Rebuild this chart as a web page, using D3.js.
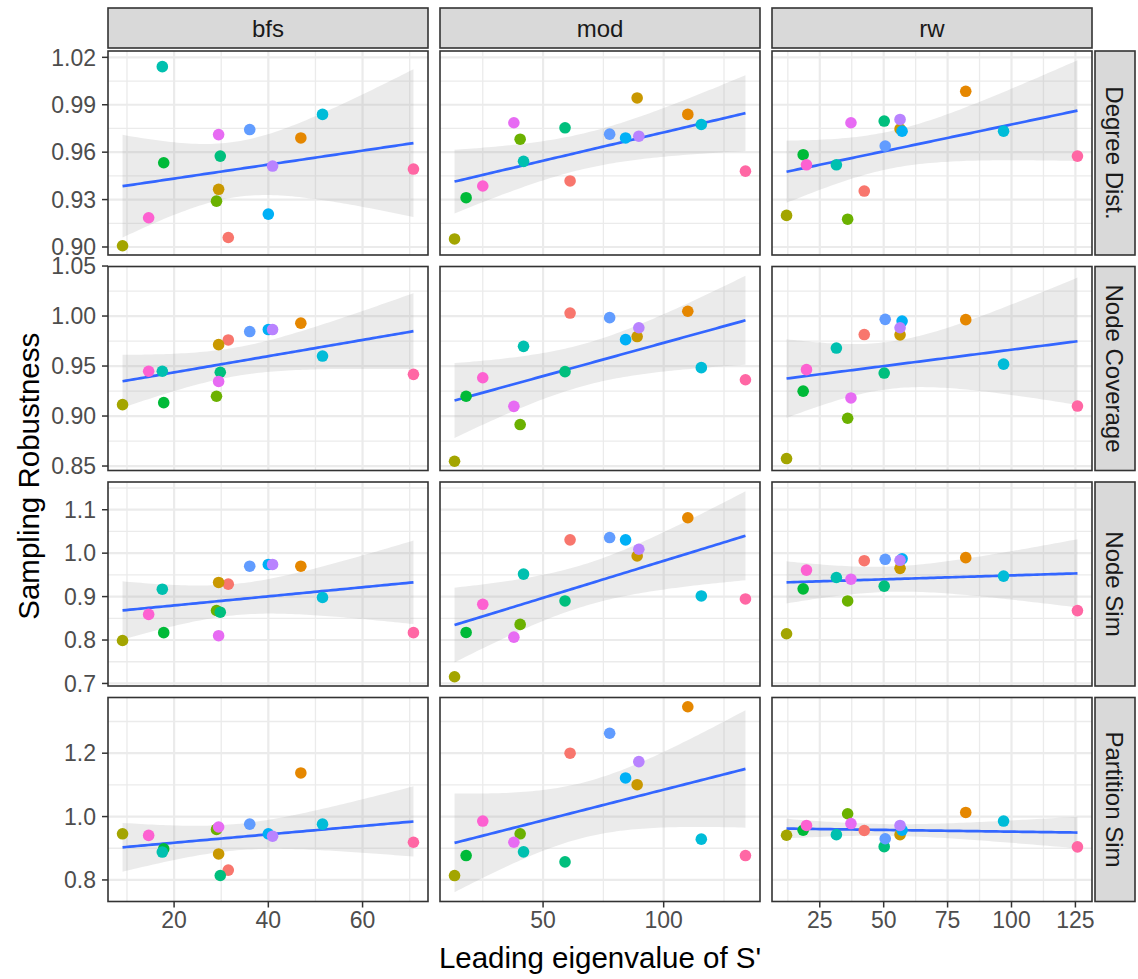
<!DOCTYPE html>
<html>
<head>
<meta charset="utf-8">
<script src="https://cdn.jsdelivr.net/npm/d3@7"></script>
<style>
  body { margin: 0; background: #ffffff; }
  text { font-family: "Liberation Sans", Arial, sans-serif; }
</style>
</head>
<body>
<svg id="chart" width="1138" height="979"></svg>
<script>
// ---- data -----------------------------------------------------------
const datasets = ["g01","g02","g03","g04","g05","g06","g07","g08","g09","g10","g11","g12","g13","g14","g15"];
const palette = ["#F8766D","#E58700","#C99800","#A3A500","#6BB100","#00BA38","#00BF7D","#00C0AF",
                 "#00BCD8","#00B0F6","#619CFF","#B983FF","#E76BF3","#FD61D1","#FF67A4"];

const methods = ["bfs", "mod", "rw"];
const metrics = ["Degree Dist.", "Node Coverage", "Node Sim", "Partition Sim"];

// leading eigenvalue of S' per dataset, one array per sampling method
const eigenBfs = [31.5, 46.9, 29.45, 9.06, 29.0, 17.8, 29.8, 17.5, 51.5, 40.0, 36.05, 40.9, 29.45, 14.6, 70.8];
const eigenMod = [61.2, 110.0, 89.0, 13.3, 40.5, 18.1, 59.1, 41.9, 115.6, 84.2, 77.6, 89.7, 37.9, 25.0, 133.9];
const eigenRw  = [42.4, 82.1, 56.4, 12.0, 35.9, 18.5, 50.2, 31.5, 96.9, 57.2, 50.6, 56.4, 37.2, 19.8, 125.8];

// sampling robustness per dataset
const degBfs  = [0.906, 0.969, 0.9365, 0.9008, 0.929, 0.9533, 0.9575, 1.0141, 0.9839, 0.9208, 0.9743, 0.9512, 0.9711, 0.9185, 0.9493];
const degMod  = [0.9418, 0.9839, 0.9943, 0.9051, 0.9682, 0.9312, 0.9754, 0.9542, 0.9775, 0.969, 0.9714, 0.9701, 0.9786, 0.9386, 0.948];
const degRw   = [0.9354, 0.9985, 0.9747, 0.92, 0.9176, 0.9584, 0.9797, 0.952, 0.9733, 0.9733, 0.9639, 0.9807, 0.9786, 0.952, 0.9575];

const covBfs  = [0.9761, 0.9929, 0.9714, 0.9114, 0.9198, 0.9134, 0.9438, 0.9448, 0.96, 0.9865, 0.9845, 0.9865, 0.9346, 0.9448, 0.9417];
const covMod  = [1.003, 1.0048, 0.9795, 0.8548, 0.8915, 0.9198, 0.9444, 0.9697, 0.9484, 0.9764, 0.9984, 0.9883, 0.9097, 0.9383, 0.9363];
const covRw   = [0.9815, 0.9964, 0.9812, 0.8575, 0.8978, 0.9249, 0.943, 0.968, 0.9519, 0.995, 0.9967, 0.9883, 0.9181, 0.9464, 0.91];

const simBfs  = [0.9286, 0.970, 0.9325, 0.7989, 0.868, 0.817, 0.864, 0.917, 0.898, 0.974, 0.970, 0.974, 0.810, 0.859, 0.817];
const simMod  = [1.0306, 1.0815, 0.9935, 0.7155, 0.836, 0.8174, 0.890, 0.9518, 0.9015, 1.0306, 1.0359, 1.009, 0.8066, 0.8823, 0.8946];
const simRw   = [0.9826, 0.9896, 0.965, 0.8144, 0.89, 0.9178, 0.924, 0.944, 0.9472, 0.987, 0.9858, 0.9835, 0.940, 0.961, 0.8677];

const partBfs = [0.831, 1.1377, 0.882, 0.9456, 0.9595, 0.898, 0.814, 0.888, 0.976, 0.9456, 0.976, 0.938, 0.967, 0.9405, 0.919];
const partMod = [1.2, 1.3465, 1.1006, 0.8139, 0.9456, 0.877, 0.857, 0.8886, 0.9288, 1.1218, 1.263, 1.1734, 0.919, 0.9858, 0.877];
const partRw  = [0.956, 1.013, 0.943, 0.941, 1.0089, 0.957, 0.905, 0.943, 0.9858, 0.957, 0.930, 0.972, 0.978, 0.972, 0.9045];

// axis tick labels
const xTicksBfs = [20, 40, 60];
const xTicksMod = [50, 100];
const xTicksRw  = [25, 50, 75, 100, 125];
const yTicksDeg  = ["0.90", "0.93", "0.96", "0.99", "1.02"];
const yTicksCov  = ["0.85", "0.90", "0.95", "1.00", "1.05"];
const yTicksSim  = ["0.7", "0.8", "0.9", "1.0", "1.1"];
const yTicksPart = ["0.8", "1.0", "1.2"];

// ---- assemble -------------------------------------------------------
const eigenByMethod = [eigenBfs, eigenMod, eigenRw];
const valuesGrid = [
  [degBfs, degMod, degRw],
  [covBfs, covMod, covRw],
  [simBfs, simMod, simRw],
  [partBfs, partMod, partRw]
];
const xTicksByCol = [xTicksBfs, xTicksMod, xTicksRw];
const yTicksByRow = [yTicksDeg, yTicksCov, yTicksSim, yTicksPart];

// ---- layout ---------------------------------------------------------
const panelX0 = 108, panelW = 320, gapX = 12;
const panelY0 = 51,  panelH = 204, gapY = 11.5;
const stripH = 40, stripW = 40;
const colLeft = c => panelX0 + c * (panelW + gapX);
const rowTop  = r => panelY0 + r * (panelH + gapY);

const ink = "#333333";
const gridCol = "#EBEBEB";
const tickText = "#4D4D4D";

const svg = d3.select("#chart");

// ---- linear fit with 95% confidence band ---------------------------
function lmFit(xs, ys) {
  const n = xs.length;
  const mx = d3.mean(xs), my = d3.mean(ys);
  let sxx = 0, sxy = 0;
  for (let i = 0; i < n; i++) { sxx += (xs[i]-mx)**2; sxy += (xs[i]-mx)*(ys[i]-my); }
  const b = sxy / sxx, a = my - b * mx;
  let sse = 0;
  for (let i = 0; i < n; i++) sse += (ys[i] - (a + b*xs[i]))**2;
  const s = Math.sqrt(sse / (n - 2));
  const t = 2.160; // t quantile, 13 df
  const [x0, x1] = d3.extent(xs);
  return d3.range(80).map(k => {
    const x = x0 + (x1 - x0) * k / 79;
    const yhat = a + b * x;
    const se = s * Math.sqrt(1/n + (x-mx)**2 / sxx);
    return { x, y: yhat, lo: yhat - t*se, hi: yhat + t*se };
  });
}

const fits = valuesGrid.map(row => row.map((vals, c) => lmFit(eigenByMethod[c], vals)));

// x scales per column (data range, 5% padding)
const xScales = eigenByMethod.map((xs, c) => {
  const [lo, hi] = d3.extent(xs), pad = (hi - lo) * 0.05;
  return d3.scaleLinear().domain([lo - pad, hi + pad]).range([colLeft(c), colLeft(c) + panelW]);
});

// y scales per row (points and bands, 5% padding)
const yScales = valuesGrid.map((row, r) => {
  let lo = Infinity, hi = -Infinity;
  row.forEach((vals, c) => {
    vals.forEach(v => { lo = Math.min(lo, v); hi = Math.max(hi, v); });
    fits[r][c].forEach(p => { lo = Math.min(lo, p.lo); hi = Math.max(hi, p.hi); });
  });
  const pad = (hi - lo) * 0.05;
  return d3.scaleLinear().domain([lo - pad, hi + pad]).range([rowTop(r) + panelH, rowTop(r)]);
});

// minor breaks: midpoints between majors, extended one step each way
function minorBreaks(majors, domain) {
  const step = majors[1] - majors[0];
  const out = [];
  for (let v = majors[0] - step/2; v <= domain[1] + 1e-9; v += step) {
    if (v >= domain[0] - 1e-9) out.push(v);
  }
  return out;
}

// ---- panels ---------------------------------------------------------
metrics.forEach((metric, r) => {
  const y = yScales[r];
  const yMajor = yTicksByRow[r].map(Number);
  methods.forEach((method, c) => {
    const x = xScales[c];
    const xMajor = xTicksByCol[c];
    const left = colLeft(c), top = rowTop(r);
    const g = svg.append("g");
    const clipId = `clip-${r}-${c}`;
    g.append("clipPath").attr("id", clipId)
      .append("rect").attr("x", left).attr("y", top).attr("width", panelW).attr("height", panelH);

    g.append("rect").attr("x", left).attr("y", top).attr("width", panelW).attr("height", panelH)
      .attr("fill", "#ffffff");

    const grid = g.append("g").attr("clip-path", `url(#${clipId})`);
    // minor grid
    grid.selectAll(".ymin").data(minorBreaks(yMajor, y.domain())).join("line")
      .attr("x1", left).attr("x2", left + panelW).attr("y1", d => y(d)).attr("y2", d => y(d))
      .attr("stroke", gridCol).attr("stroke-width", 1.3);
    grid.selectAll(".xmin").data(minorBreaks(xMajor, x.domain())).join("line")
      .attr("y1", top).attr("y2", top + panelH).attr("x1", d => x(d)).attr("x2", d => x(d))
      .attr("stroke", gridCol).attr("stroke-width", 1.3);
    // major grid
    grid.selectAll(".ymaj").data(yMajor).join("line")
      .attr("x1", left).attr("x2", left + panelW).attr("y1", d => y(d)).attr("y2", d => y(d))
      .attr("stroke", gridCol).attr("stroke-width", 2.2);
    grid.selectAll(".xmaj").data(xMajor).join("line")
      .attr("y1", top).attr("y2", top + panelH).attr("x1", d => x(d)).attr("x2", d => x(d))
      .attr("stroke", gridCol).attr("stroke-width", 2.2);

    const fit = fits[r][c];
    const plot = g.append("g").attr("clip-path", `url(#${clipId})`);
    plot.append("path").datum(fit)
      .attr("d", d3.area().x(d => x(d.x)).y0(d => y(d.lo)).y1(d => y(d.hi)))
      .attr("fill", "#999999").attr("fill-opacity", 0.2);
    plot.append("path").datum(fit)
      .attr("d", d3.line().x(d => x(d.x)).y(d => y(d.y)))
      .attr("fill", "none").attr("stroke", "#3366FF").attr("stroke-width", 2.7);

    const vals = valuesGrid[r][c];
    const xs = eigenByMethod[c];
    plot.selectAll("circle").data(datasets).join("circle")
      .attr("cx", (d, i) => x(xs[i]))
      .attr("cy", (d, i) => y(vals[i]))
      .attr("r", 5.8)
      .attr("fill", (d, i) => palette[i]);

    g.append("rect").attr("x", left).attr("y", top).attr("width", panelW).attr("height", panelH)
      .attr("fill", "none").attr("stroke", ink).attr("stroke-width", 1.6);

    // y axis on first column
    if (c === 0) {
      const ya = g.append("g");
      ya.selectAll("line").data(yMajor).join("line")
        .attr("x1", left - 6).attr("x2", left).attr("y1", d => y(d)).attr("y2", d => y(d))
        .attr("stroke", ink).attr("stroke-width", 1.5);
      ya.selectAll("text").data(yTicksByRow[r]).join("text")
        .attr("x", left - 12).attr("y", d => y(+d)).attr("dy", "0.36em")
        .attr("text-anchor", "end").attr("font-size", 23).attr("fill", tickText)
        .text(d => d);
    }
    // x axis on last row
    if (r === metrics.length - 1) {
      const xa = g.append("g");
      xa.selectAll("line").data(xMajor).join("line")
        .attr("y1", top + panelH).attr("y2", top + panelH + 6).attr("x1", d => x(d)).attr("x2", d => x(d))
        .attr("stroke", ink).attr("stroke-width", 1.5);
      xa.selectAll("text").data(xMajor).join("text")
        .attr("x", d => x(d)).attr("y", top + panelH + 26)
        .attr("text-anchor", "middle").attr("font-size", 23).attr("fill", tickText)
        .text(d => d);
    }
  });
});

// ---- strips ---------------------------------------------------------
methods.forEach((method, c) => {
  const left = colLeft(c);
  svg.append("rect").attr("x", left).attr("y", panelY0 - 3 - stripH).attr("width", panelW).attr("height", stripH)
    .attr("fill", "#D9D9D9").attr("stroke", ink).attr("stroke-width", 1.6);
  svg.append("text").attr("x", left + panelW/2).attr("y", panelY0 - 3 - stripH/2).attr("dy", "0.36em")
    .attr("text-anchor", "middle").attr("font-size", 24).attr("fill", "#1A1A1A").text(method);
});
metrics.forEach((metric, r) => {
  const top = rowTop(r);
  const sx = colLeft(2) + panelW + 3;
  svg.append("rect").attr("x", sx).attr("y", top).attr("width", stripW).attr("height", panelH)
    .attr("fill", "#D9D9D9").attr("stroke", ink).attr("stroke-width", 1.6);
  svg.append("text")
    .attr("transform", `translate(${sx + stripW/2},${top + panelH/2}) rotate(90)`)
    .attr("dy", "0.36em").attr("text-anchor", "middle")
    .attr("font-size", 24).attr("fill", "#1A1A1A").text(metric);
});

// ---- axis titles ----------------------------------------------------
const plotBottom = rowTop(3) + panelH;
svg.append("text")
  .attr("x", (colLeft(0) + colLeft(2) + panelW) / 2).attr("y", 968)
  .attr("text-anchor", "middle").attr("font-size", 29.5).attr("fill", "#000000")
  .text("Leading eigenvalue of S'");
svg.append("text")
  .attr("transform", `translate(39,${(panelY0 + plotBottom) / 2}) rotate(-90)`)
  .attr("text-anchor", "middle").attr("font-size", 29.5).attr("fill", "#000000")
  .text("Sampling Robustness");
</script>
</body>
</html>
